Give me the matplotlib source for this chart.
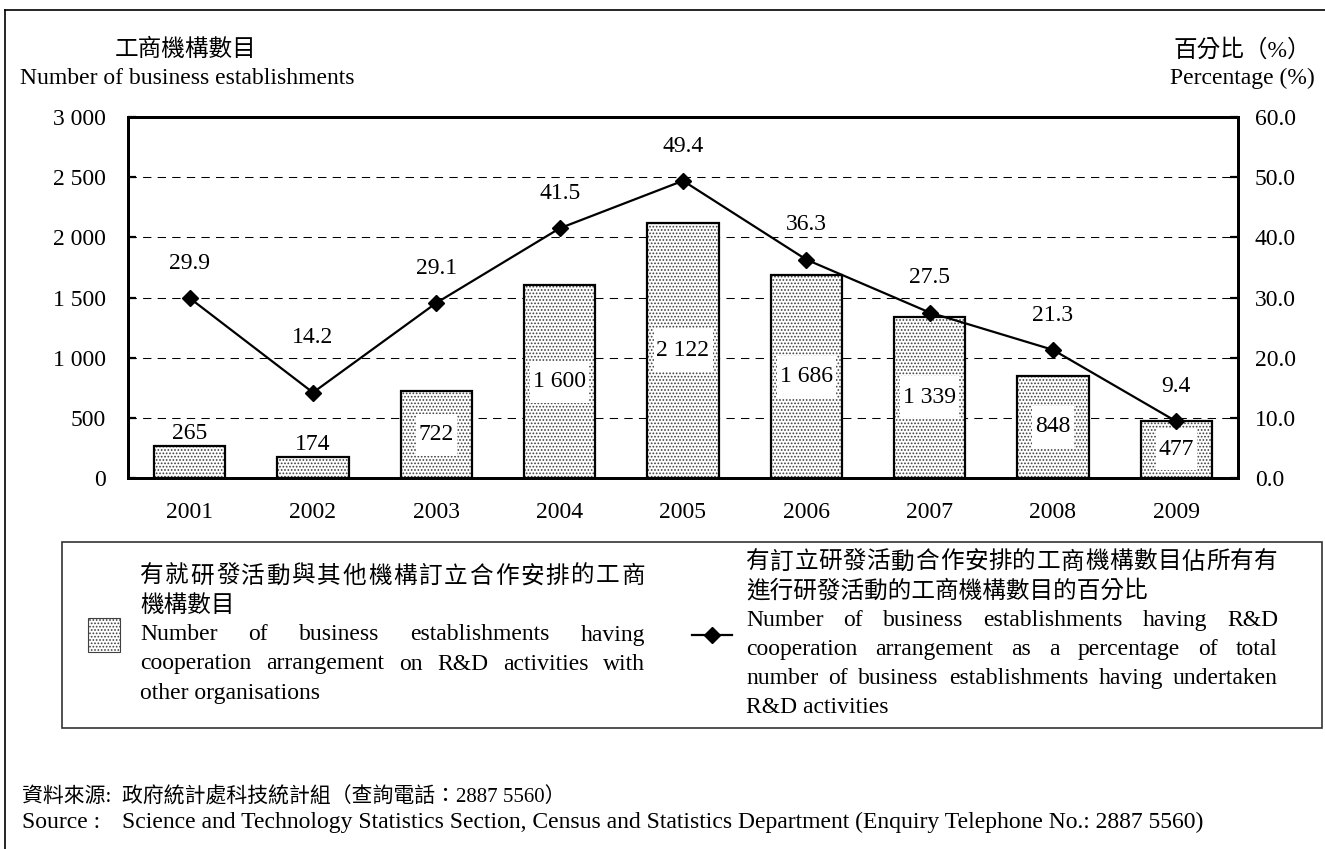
import matplotlib
matplotlib.use("Agg")
import matplotlib.pyplot as plt
from matplotlib.lines import Line2D
from matplotlib.patches import Rectangle
from matplotlib.transforms import IdentityTransform
from matplotlib.ticker import FuncFormatter, MultipleLocator

# data
years = ["2001", "2002", "2003", "2004", "2005", "2006", "2007", "2008", "2009"]
counts = [265, 174, 722, 1600, 2122, 1686, 1339, 848, 477]
percents = [29.9, 14.2, 29.1, 41.5, 49.4, 36.3, 27.5, 21.3, 9.4]

left_title = ["工商機構數目", "Number of business establishments"]
right_title = ["百分比（%）", "Percentage (%)"]
bar_legend_zh = ["有就研發活動與其他機構訂立合作安排的工商", "機構數目"]
bar_legend_en = ["Number of business establishments having",
                 "cooperation arrangement on R&D activities with",
                 "other organisations"]
line_legend_zh = ["有訂立研發活動合作安排的工商機構數目佔所有有",
                  "進行研發活動的工商機構數目的百分比"]
line_legend_en = ["Number of business establishments having R&D",
                  "cooperation arrangement as a percentage of total",
                  "number of business establishments having undertaken",
                  "R&D activities"]
source_zh = ["資料來源:", "政府統計處科技統計組（查詢電話：2887 5560）"]
source_en = ["Source :", "Science and Technology Statistics Section, Census and Statistics "
             "Department (Enquiry Telephone No.: 2887 5560)"]

plt.rcParams['font.family'] = ['Liberation Serif', 'Noto Sans CJK TC']
plt.rcParams['font.size'] = 17
plt.rcParams['hatch.linewidth'] = 0.8

W, H = 1325, 849
fig = plt.figure(figsize=(W / 100, H / 100), dpi=100)


def fx(x):
    return x / W


def fy(y):
    return 1 - y / H


def spaced(v):
    return f"{v:,}".replace(",", " ")


# outer frame (open to the right and bottom)
fig.add_artist(Line2D([fx(5), 1.0], [fy(10), fy(10)], transform=fig.transFigure, color='k', lw=1.2))
fig.add_artist(Line2D([fx(5), fx(5)], [fy(10), 0.0], transform=fig.transFigure, color='k', lw=1.2))

ax = fig.add_axes([fx(128), fy(478), (1238 - 128) / W, (478 - 117) / H])
ax2 = ax.twinx()

x = list(range(len(years)))
ax.bar(x, counts, width=0.58, color='white', edgecolor='#404040', hatch='.....', linewidth=0, zorder=2)
ax.bar(x, counts, width=0.58, fill=False, edgecolor='black', linewidth=1.6, zorder=3)

inner_labels = []
for i, v in enumerate(counts):
    if v < 400:
        ax.annotate(spaced(v), (i, v), xytext=(0, 9), textcoords='offset points',
                    ha='center', va='center', zorder=4)
    else:
        inner_labels.append(ax.text(i, v / 2, spaced(v), ha='center', va='center', zorder=4))

ax.set_xlim(-0.5, len(years) - 0.5)
ax.set_ylim(0, 3000)
ax.yaxis.set_major_locator(MultipleLocator(500))
ax.yaxis.set_major_formatter(FuncFormatter(lambda v, p: spaced(int(v))))
ax.set_xticks(x)
ax.set_xticklabels(years)
ax.set_axisbelow(True)
ax.yaxis.grid(True, color='black', lw=0.75, linestyle=(0, (8, 6)), zorder=0)
ax.tick_params(axis='y', direction='in', length=6, width=1.6, pad=16)
ax.tick_params(axis='x', length=0, pad=17)

ax2.plot(x, percents, color='black', lw=1.6, marker='D', markersize=8, zorder=5)
label_dy = [25, 40, 25, 25, 25, 25, 25, 25, 25]
for i, v in enumerate(percents):
    ax2.annotate(f"{v:.1f}", (i, v), xytext=(0, label_dy[i]), textcoords='offset points',
                 ha='center', va='center')
ax2.set_ylim(0, 60)
ax2.yaxis.set_major_locator(MultipleLocator(10))
ax2.yaxis.set_major_formatter(FuncFormatter(lambda v, p: f"{v:.1f}"))
ax2.tick_params(axis='y', direction='in', length=6, width=1.6, pad=12)

for a in (ax, ax2):
    for s in a.spines.values():
        s.set_linewidth(2.0)

renderer = fig.canvas.get_renderer()

# white boxes behind the labels inside the bars (wide vertical margin, narrow sides)
for t in inner_labels:
    bb = t.get_window_extent(renderer)
    cy = (bb.y0 + bb.y1) / 2
    ax.add_patch(Rectangle((bb.x0 - 3, cy - 21), bb.width + 6, 42, transform=IdentityTransform(),
                           facecolor='white', edgecolor='none', zorder=2.5))

# axis titles
fig.text(fx(186), fy(50), left_title[0], ha='center', va='center')
fig.text(fx(187), fy(78), left_title[1], ha='center', va='center')
fig.text(fx(1242), fy(50), right_title[0], ha='center', va='center')
fig.text(fx(1242), fy(78), right_title[1], ha='center', va='center')


def justify(tokens, x0, x1, y, **kw):
    texts = [fig.text(0, fy(y), t, ha='left', va='center', **kw) for t in tokens]
    widths = [t.get_window_extent(renderer).width for t in texts]
    gap = ((x1 - x0) - sum(widths)) / (len(tokens) - 1)
    pos = x0
    for t, w in zip(texts, widths):
        t.set_x(fx(pos))
        pos += w + gap


def plain(text, x0, y, **kw):
    fig.text(fx(x0), fy(y), text, ha='left', va='center', **kw)


# legend box
fig.add_artist(Rectangle((fx(62), fy(728)), (1322 - 62) / W, (728 - 542) / H,
                         transform=fig.transFigure, fill=False, edgecolor='#333333', lw=1.2))

step = 29
# bar entry
lx0, lx1 = 140, 645
ly = [635 - 2 * step + k * step for k in range(5)]
justify(list(bar_legend_zh[0]), lx0, lx1, ly[0])
plain(bar_legend_zh[1], lx0, ly[1])
justify(bar_legend_en[0].split(), lx0, lx1, ly[2])
justify(bar_legend_en[1].split(), lx0, lx1, ly[3])
plain(bar_legend_en[2], lx0, ly[4])
fig.add_artist(Rectangle((fx(88), fy(652)), 32 / W, 34 / H, transform=fig.transFigure,
                         facecolor='white', edgecolor='#404040', hatch='.....', lw=0.8))

# line entry
rx0, rx1 = 746, 1278
ry = [635 - 2.5 * step + k * step for k in range(6)]
justify(list(line_legend_zh[0]), rx0, rx1, ry[0])
plain(line_legend_zh[1], rx0, ry[1])
justify(line_legend_en[0].split(), rx0, rx1, ry[2])
justify(line_legend_en[1].split(), rx0, rx1, ry[3])
justify(line_legend_en[2].split(), rx0, rx1, ry[4])
plain(line_legend_en[3], rx0, ry[5])
fig.add_artist(Line2D([fx(692), fx(732)], [fy(635), fy(635)], transform=fig.transFigure,
                      color='k', lw=1.6))
fig.add_artist(Line2D([fx(712)], [fy(635)], transform=fig.transFigure, color='k',
                      marker='D', markersize=8, lw=0))

# source
plain(source_zh[0], 22, 797, fontsize=15)
plain(source_zh[1], 122, 797, fontsize=15)
plain(source_en[0], 22, 822)
plain(source_en[1], 122, 822)

fig.savefig("out.png", dpi=100)
